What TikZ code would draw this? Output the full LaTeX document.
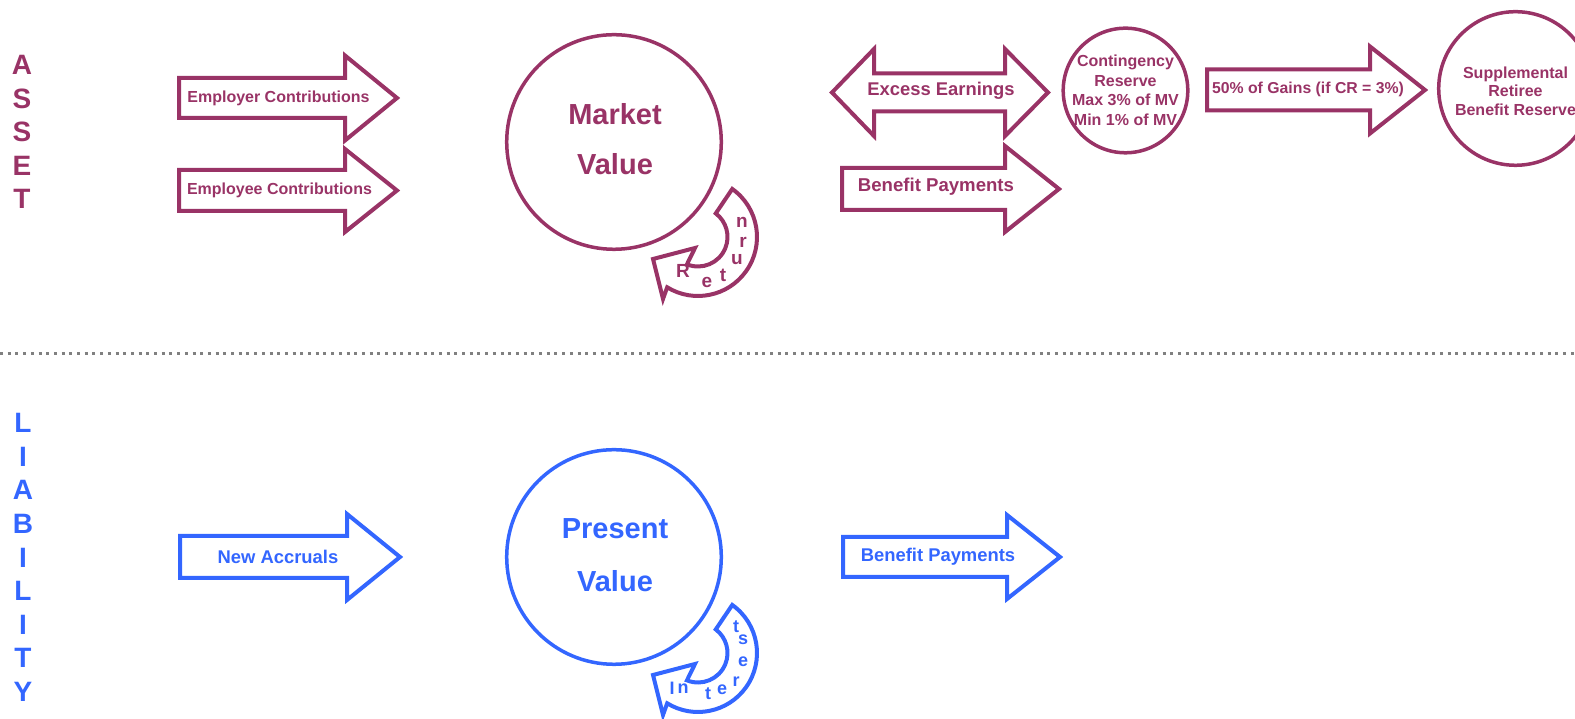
\documentclass[tikz,border=0pt]{standalone}
\usepackage{fontspec}
\setmainfont{Liberation Sans}
\definecolor{assetc}{RGB}{153,51,102}
\definecolor{liabc}{RGB}{51,102,255}
\definecolor{rulec}{RGB}{128,128,128}

% straight block arrow: style, left x, head base x, tip x, centre y, half body, half head
\newcommand\rightblock[7]{%
  \draw[#1] (#2,#5-#6) -- (#3,#5-#6) -- (#3,#5-#7) -- (#4,#5) -- (#3,#5+#7)
    -- (#3,#5+#6) -- (#2,#5+#6) -- cycle;}

% curved return arrow around a centre (#2,#3)
\newcommand\turnarrow[3]{%
  \draw[#1] ({#2+59*cos(54.5)},{#3+59*sin(54.5)})
    arc[start angle=54.5,end angle=-121.5,radius=59]
    -- ({#2-35},{#3-62}) -- ({#2-45},{#3-22}) -- ({#2-3},{#3-11})
    -- ({#2+29.5*cos(-112)},{#3+29.5*sin(-112)})
    arc[start angle=-112,end angle=53,radius=29.5] -- cycle;}

\tikzset{
  blockA/.style={draw=assetc, line width=4pt, line join=miter, miter limit=10},
  blockL/.style={draw=liabc, line width=4pt, line join=miter, miter limit=10},
  poolA/.style={circle, draw=assetc, line width=3.5pt, inner sep=0pt},
  poolL/.style={circle, draw=liabc, line width=3.5pt, inner sep=0pt},
  txtA/.style={text=assetc, inner sep=0pt, align=center},
  txtL/.style={text=liabc, inner sep=0pt, align=center},
  fmid/.style={font=\fontsize{18.4}{22}\selectfont\bfseries},
  fsmall/.style={font=\fontsize{16}{19}\selectfont\bfseries},
  fside/.style={font=\fontsize{28}{30}\selectfont\bfseries},
  fcurveA/.style={font=\fontsize{19}{20}\selectfont\bfseries},
  fcurveL/.style={font=\fontsize{18}{20}\selectfont\bfseries},
}

\begin{document}
\begin{tikzpicture}[x=1pt,y=1pt]
\useasboundingbox (0,0) rectangle (1575,719);
\clip (0,0) rectangle (1575,719);

% dividing rule between the two halves
\draw[rulec, line width=3pt, dash pattern=on 3pt off 4.7pt] (0,365) coordinate (ruleL) -- (1575,365) coordinate (ruleR);

% side captions
\foreach \ch [count=\i from 0] in {A,S,S,E,T}
  \node[txtA, fside] (side-a\i) at (22,{654-33.5*\i}) {\ch};
\foreach \ch [count=\i from 0] in {L,I,A,B,I,L,I,T,Y}
  \node[txtL, fside] (side-l\i) at (23,{296-33.6*\i}) {\ch};

% ---------- asset side ----------
\rightblock{blockA}{179}{345}{397}{621}{20}{42.5}
\node[txtA, fsmall] (employer) at (278.5,621) {Employer Contributions};
\rightblock{blockA}{179}{345}{397}{528.5}{20.5}{41.5}
\node[txtA, fsmall] (employee) at (279.5,529) {Employee Contributions};

\node[poolA, minimum size=214.6pt] (mv) at (614,577) {};
\node[txtA, font=\fontsize{29}{50}\selectfont\bfseries] (mvtext) at (615,580) {Market\\Value};

\turnarrow{blockA}{698}{482}
\node[txtA, fcurveA] (ret1) at (683,448) {R};
\node[txtA, fcurveA] (ret2) at (707,437) {e};
\node[txtA, fcurveA] (ret3) at (723,444) {t};
\node[txtA, fcurveA] (ret4) at (737,459) {u};
\node[txtA, fcurveA] (ret5) at (743,477) {r};
\node[txtA, fcurveA] (ret6) at (742,497) {n};

% two-headed excess earnings arrow
\draw[blockA] (832,626.5) -- (874,670) -- (874,645.5) -- (1005,645.5) -- (1005,670) -- (1048,626.5)
  -- (1005,583) -- (1005,607.5) -- (874,607.5) -- (874,583) -- cycle;
\node[txtA, fmid] (excess) at (941,628) {Excess Earnings};

\rightblock{blockA}{842}{1005}{1059}{530}{21}{43}
\node[txtA, font=\fontsize{18.6}{22}\selectfont\bfseries] (benA) at (936,532) {Benefit Payments};

\node[poolA, minimum size=124.6pt] (cr) at (1125.5,628.5) {};
\node[txtA, font=\fontsize{16}{19.5}\selectfont\bfseries] (crtext) at (1125.5,628.5) {Contingency\\Reserve\\Max 3\% of MV\\Min 1\% of MV};

\rightblock{blockA}{1207}{1370}{1425}{629}{20.5}{43.5}
\node[txtA, font=\fontsize{15.8}{19}\selectfont\bfseries] (gains) at (1308,630) {50\% of Gains (if CR = 3\%)};

\node[poolA, minimum size=153.6pt] (srbr) at (1515.5,630.5) {};
\node[txtA, font=\fontsize{16}{18.5}\selectfont\bfseries] (srbrtext) at (1515.5,628) {Supplemental\\Retiree\\Benefit Reserve};

% ---------- liability side ----------
\rightblock{blockL}{180}{347}{400}{162}{21}{43}
\node[txtL, font=\fontsize{18.4}{22}\selectfont\bfseries] (accr) at (278,162) {New Accruals};

\node[poolL, minimum size=214.6pt] (pv) at (614,162) {};
\node[txtL, font=\fontsize{29}{53}\selectfont\bfseries] (pvtext) at (615,163.5) {Present\\Value};

\turnarrow{blockL}{698}{66}
\node[txtL, fcurveL] (int1) at (672,31) {I};
\node[txtL, fcurveL] (int2) at (683,30) {n};
\node[txtL, fcurveL] (int3) at (708,25) {t};
\node[txtL, fcurveL] (int4) at (722,29) {e};
\node[txtL, fcurveL] (int5) at (736,37) {r};
\node[txtL, fcurveL] (int6) at (743,57) {e};
\node[txtL, fcurveL] (int7) at (743,79) {s};
\node[txtL, fcurveL] (int8) at (736,92) {t};

\rightblock{blockL}{843}{1007}{1060}{162}{20}{42}
\node[txtL, font=\fontsize{18.4}{22}\selectfont\bfseries] (benL) at (938,162) {Benefit Payments};
\end{tikzpicture}
\end{document}
